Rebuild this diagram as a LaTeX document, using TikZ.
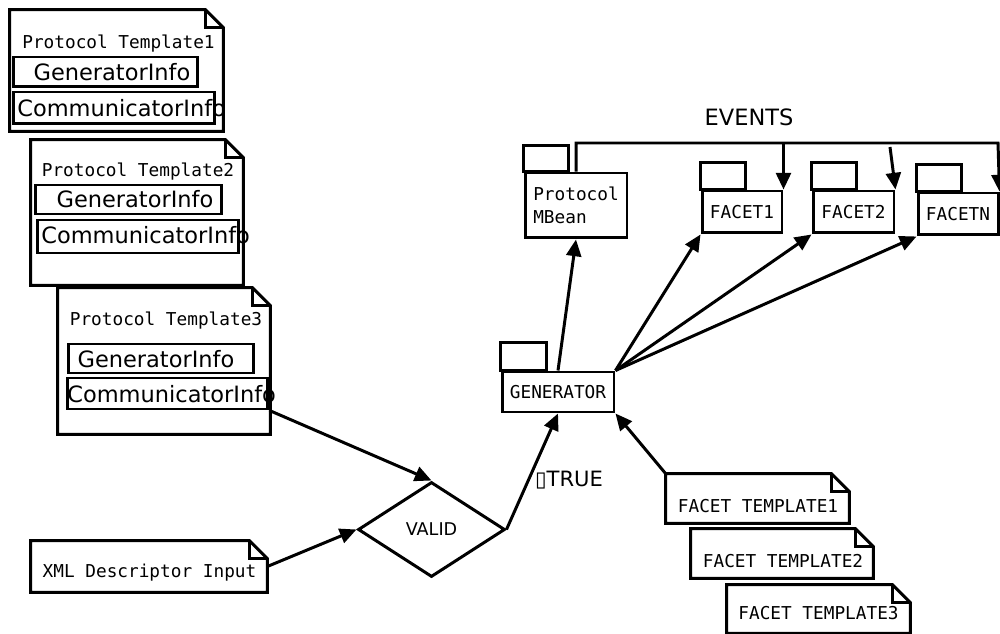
\documentclass[tikz,border=0pt]{standalone}
\usepackage{fontspec}
\setmainfont{DejaVu Sans}
\newfontfamily\monofam{DejaVu Sans Mono}
\usetikzlibrary{arrows.meta,shapes.geometric}

% folded-corner outline around a (borderless) note node
\newcommand\drawnote[1]{%
  \draw[outline] (#1.north west) -- ([xshift=-0.36cm]#1.north east)
    -- ([yshift=-0.36cm]#1.north east) -- (#1.south east) -- (#1.south west) -- cycle;
  \draw[outline] ([xshift=-0.36cm]#1.north east) |- ([yshift=-0.36cm]#1.north east);}
% tab on top of a package box
\newcommand\drawtab[1]{%
  \draw[outline] (#1.north west) rectangle ([xshift=0.9cm,yshift=0.54cm]#1.north west);}

\begin{document}
\begin{tikzpicture}[x=0.02cm,y=-0.02cm,
  outline/.style={line width=1.7pt,line join=miter},
  box/.style={draw,rectangle,line width=1.7pt,inner sep=0pt},
  notebox/.style={rectangle,inner sep=0pt},
  mono/.style={inner sep=0pt,font=\monofam\fontsize{10.1}{13}\selectfont},
  sans/.style={inner sep=0pt,font=\fontsize{12.8}{15}\selectfont},
  arr/.style={line width=1.7pt,-{Triangle[length=9.5pt,width=8.5pt]}},
  pkg/.style={box,font=\monofam\fontsize{10.1}{13}\selectfont,align=left}]

\useasboundingbox (0,0) rectangle (1000,634);

% ---------- protocol templates ----------
\node[notebox,minimum width=4.26cm,minimum height=2.42cm] (pt1) at (116.5,70.5) {};
\drawnote{pt1}
\node[mono] (pt1t) at (118.5,44) {Protocol Template1};
\node[box,minimum width=3.70cm,minimum height=0.60cm] (g1) at (105.5,72) {};
\node[sans] (g1t) at (112,72) {GeneratorInfo};
\node[box,minimum width=4.04cm,minimum height=0.64cm] (c1) at (114,108) {};
\node[sans,anchor=west] (c1t) at (17,108) {CommunicatorInfo};

\node[notebox,minimum width=4.24cm,minimum height=2.90cm] (pt2) at (137,212.5) {};
\drawnote{pt2}
\node[mono] (pt2t) at (138,172) {Protocol Template2};
\node[box,minimum width=3.74cm,minimum height=0.58cm] (g2) at (128.5,199.5) {};
\node[sans] (g2t) at (135,199) {GeneratorInfo};
\node[box,minimum width=4.04cm,minimum height=0.66cm] (c2) at (138,236.5) {};
\node[sans,anchor=west] (c2t) at (41,235) {CommunicatorInfo};

\node[notebox,minimum width=4.24cm,minimum height=2.92cm] (pt3) at (164,361) {};
\drawnote{pt3}
\node[mono] (pt3t) at (166,321) {Protocol Template3};
\node[box,minimum width=3.72cm,minimum height=0.58cm] (g3) at (161,358.5) {};
\node[sans] (g3t) at (156,359) {GeneratorInfo};
\node[box,minimum width=4.02cm,minimum height=0.62cm] (c3) at (167.5,393.5) {};
\node[sans,anchor=west] (c3t) at (67,394) {CommunicatorInfo};

% ---------- descriptor input and validation ----------
\node[notebox,minimum width=4.72cm,minimum height=1.02cm] (xml) at (149,566.5) {};
\drawnote{xml}
\node[mono] (xmlt) at (149.5,573) {XML Descriptor Input};

\node[draw,diamond,line width=1.7pt,inner sep=0pt,minimum width=2.94cm,minimum height=1.90cm,
      font=\fontsize{10}{12}\selectfont] (valid) at (431.5,529.5) {VALID};

% ---------- generator and managed beans ----------
\node[pkg,minimum width=2.24cm,minimum height=0.80cm] (gen) at (558,392) {GENERATOR};
\draw[outline] (gen.north west) rectangle ([xshift=0.92cm,yshift=0.56cm]gen.north west);

\node[pkg,minimum width=2.04cm,minimum height=1.30cm] (mbean) at (576,205.5) {Protocol\\MBean};
\draw[outline] (mbean.north west) rectangle ([xshift=0.9cm,yshift=0.52cm]mbean.north west);

\node[pkg,minimum width=1.60cm,minimum height=0.84cm] (f1) at (742,212) {FACET1};
\drawtab{f1}
\node[pkg,minimum width=1.62cm,minimum height=0.84cm] (f2) at (853.5,212) {FACET2};
\drawtab{f2}
\node[pkg,minimum width=1.60cm,minimum height=0.84cm] (fn) at (958,214) {FACETN};
\drawtab{fn}

% ---------- facet templates ----------
\node[notebox,minimum width=3.66cm,minimum height=0.98cm] (ft1) at (757.5,498.5) {};
\drawnote{ft1}
\node[mono] (ft1t) at (758,506) {FACET TEMPLATE1};
\node[notebox,minimum width=3.64cm,minimum height=0.98cm] (ft2) at (782,553.5) {};
\drawnote{ft2}
\node[mono] (ft2t) at (783,561) {FACET TEMPLATE2};
\node[notebox,minimum width=3.66cm,minimum height=0.96cm] (ft3) at (818.5,609) {};
\drawnote{ft3}
\node[mono] (ft3t) at (818.5,613) {FACET TEMPLATE3};

% ---------- connectors ----------
\draw[arr] (c3.south east) -- (valid.north);
\draw[arr] (xml.east) -- (valid.west);
\draw[arr] (valid.east) -- (gen.south);
\node[font=\fontsize{12}{14}\selectfont,inner sep=0pt] (true) at (569,480) {▯TRUE};
\draw[arr] (gen.north) -- (mbean.south);
\draw[arr] (gen.north east) -- (f1.south west);
\draw[arr] (gen.north east) -- (f2.south west);
\draw[arr] (gen.north east) -- (fn.south west);
\draw[arr] (ft1.north west) -- (gen.south east);

% event bus from the protocol bean to the facets
\coordinate (busR) at (998,143);
\coordinate (bus2) at (890,147);
\node[sans] (events) at (749,117) {EVENTS};
\draw[arr] (mbean.north) |- (busR) -- (fn.north east);
\draw[arr] (f1.north east |- busR) -- (f1.north east);
\draw[arr] (bus2) -- (f2.north east);

\end{tikzpicture}
\end{document}
